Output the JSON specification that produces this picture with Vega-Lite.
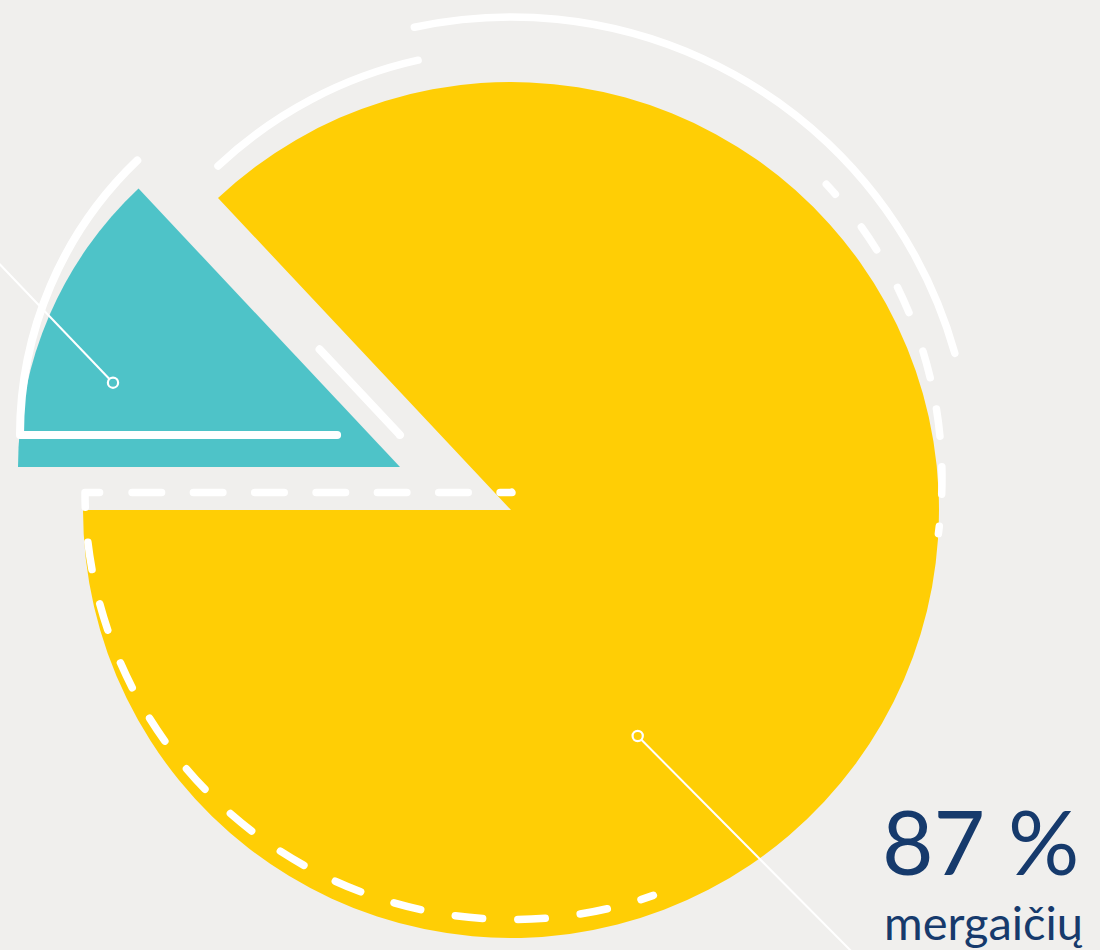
{
  "$schema": "https://vega.github.io/schema/vega-lite/v6.json",
  "width": 1100,
  "height": 950,
  "padding": 0,
  "autosize": {"type": "none"},
  "background": "#f0efed",
  "config": {"view": {"stroke": null}},
  "data": {
    "values": [
      {"group": "berniukų", "share": 13, "label": "13 %"},
      {"group": "mergaičių", "share": 87, "label": "87 %"}
    ]
  },
  "transform": [
    {"stack": "share", "groupby": [], "sort": [{"field": "share", "order": "ascending"}], "as": ["t0", "t1"]}
  ],
  "layer": [
    {
      "transform": [{"filter": {"field": "group", "equal": "mergaičių"}}],
      "mark": {"type": "arc", "outerRadius": 428, "fill": "#ffce05"},
      "encoding": {
        "theta": {"field": "t0", "type": "quantitative", "scale": {"domain": [0, 100], "range": [4.71238898, 10.99557429]}},
        "theta2": {"field": "t1"},
        "x": {"datum": 0, "type": "quantitative", "scale": {"domain": [-511, 589], "nice": false, "zero": false}, "axis": null},
        "y": {"datum": 0, "type": "quantitative", "scale": {"domain": [-440, 510], "nice": false, "zero": false}, "axis": null}
      }
    },
    {
      "transform": [{"filter": {"field": "group", "equal": "berniukų"}}],
      "mark": {"type": "arc", "outerRadius": 382, "fill": "#4ec3c8"},
      "encoding": {
        "theta": {"field": "t0", "type": "quantitative", "scale": {"domain": [0, 100], "range": [4.71238898, 10.99557429]}},
        "theta2": {"field": "t1"},
        "x": {"datum": -111, "type": "quantitative", "scale": {"domain": [-511, 589], "nice": false, "zero": false}, "axis": null},
        "y": {"datum": 43, "type": "quantitative", "scale": {"domain": [-440, 510], "nice": false, "zero": false}, "axis": null}
      }
    },
    {
      "transform": [{"filter": {"field": "group", "equal": "mergaičių"}}],
      "mark": {"type": "arc", "outerRadius": 427, "filled": false, "stroke": "white", "strokeWidth": 7.5, "strokeCap": "round", "strokeJoin": "round",
        "strokeDash": [13.1, 35.15, 27.5, 35.14, 27.5, 35.14, 27.5, 35.14, 27.5, 35.14, 27.5, 35.14, 27.5, 35.14, 27.5, 35.14, 27.5, 35.14, 27.5, 35.14, 27.5, 35.14, 27.5, 35.14, 27.5, 35.14, 29.4, 32.5, 29.5, 31.83, 29.5, 31.83, 29.5, 31.83, 29.5, 31.83, 29.5, 31.83, 29.5, 31.83, 12.27, 2000],
        "strokeDashOffset": 1723.08},
      "encoding": {
        "theta": {"field": "t0", "type": "quantitative", "scale": {"domain": [0, 100], "range": [4.71238898, 10.99557429]}},
        "theta2": {"field": "t1"},
        "x": {"datum": 1, "type": "quantitative", "scale": {"domain": [-511, 589], "nice": false, "zero": false}, "axis": null},
        "y": {"datum": 17.5, "type": "quantitative", "scale": {"domain": [-440, 510], "nice": false, "zero": false}, "axis": null}
      }
    },
    {
      "transform": [{"filter": {"field": "group", "equal": "mergaičių"}}],
      "mark": {"type": "arc", "outerRadius": 428, "filled": false, "stroke": "white", "strokeWidth": 7.5, "strokeCap": "round", "strokeJoin": "round",
        "strokeDash": [229, 5000]},
      "encoding": {
        "theta": {"field": "t0", "type": "quantitative", "scale": {"domain": [0, 100], "range": [4.71238898, 10.99557429]}},
        "theta2": {"field": "t1"},
        "x": {"datum": 0, "type": "quantitative", "scale": {"domain": [-511, 589], "nice": false, "zero": false}, "axis": null},
        "y": {"datum": 32, "type": "quantitative", "scale": {"domain": [-440, 510], "nice": false, "zero": false}, "axis": null}
      }
    },
    {
      "transform": [{"filter": {"field": "group", "equal": "mergaičių"}}],
      "mark": {"type": "arc", "outerRadius": 431, "filled": false, "stroke": "white", "strokeWidth": 7.5, "strokeCap": "round", "strokeJoin": "round",
        "strokeDash": [13.5, 41.9, 27.5, 43.2, 27.5, 41, 27.5, 31.9, 27.5, 30.5, 27.5, 32.1, 7.5, 2900],
        "strokeDashOffset": 2600.55},
      "encoding": {
        "theta": {"field": "t0", "type": "quantitative", "scale": {"domain": [0, 100], "range": [4.71238898, 10.99557429]}},
        "theta2": {"field": "t1"},
        "x": {"datum": 0, "type": "quantitative", "scale": {"domain": [-511, 589], "nice": false, "zero": false}, "axis": null},
        "y": {"datum": 32, "type": "quantitative", "scale": {"domain": [-440, 510], "nice": false, "zero": false}, "axis": null}
      }
    },
    {
      "transform": [{"filter": {"field": "group", "equal": "mergaičių"}}],
      "mark": {"type": "arc", "outerRadius": 461, "filled": false, "stroke": "white", "strokeWidth": 7.5, "strokeCap": "round", "strokeJoin": "round",
        "strokeDash": [695.2, 3000],
        "strokeDashOffset": 3445},
      "encoding": {
        "theta": {"field": "t0", "type": "quantitative", "scale": {"domain": [0, 100], "range": [4.71238898, 10.99557429]}},
        "theta2": {"field": "t1"},
        "x": {"datum": 0, "type": "quantitative", "scale": {"domain": [-511, 589], "nice": false, "zero": false}, "axis": null},
        "y": {"datum": 32, "type": "quantitative", "scale": {"domain": [-440, 510], "nice": false, "zero": false}, "axis": null}
      }
    },
    {
      "transform": [{"filter": {"field": "group", "equal": "berniukų"}}],
      "mark": {"type": "arc", "outerRadius": 380, "filled": false, "stroke": "white", "strokeWidth": 8, "strokeCap": "round", "strokeJoin": "round",
        "strokeDash": [306.65, 266.1, 117.65, 62.75, 317.25, 100]},
      "encoding": {
        "theta": {"field": "t0", "type": "quantitative", "scale": {"domain": [0, 100], "range": [4.71238898, 10.99557429]}},
        "theta2": {"field": "t1"},
        "x": {"datum": -111, "type": "quantitative", "scale": {"domain": [-511, 589], "nice": false, "zero": false}, "axis": null},
        "y": {"datum": 75, "type": "quantitative", "scale": {"domain": [-440, 510], "nice": false, "zero": false}, "axis": null}
      }
    },
    {
      "transform": [{"filter": {"field": "group", "equal": "berniukų"}}],
      "mark": {"type": "rule", "stroke": "white", "strokeWidth": 2},
      "encoding": {
        "x": {"datum": -398, "type": "quantitative", "scale": {"domain": [-511, 589], "nice": false, "zero": false}, "axis": null},
        "y": {"datum": 127.3, "type": "quantitative", "scale": {"domain": [-440, 510], "nice": false, "zero": false}, "axis": null},
        "x2": {"datum": -521},
        "y2": {"datum": 256}
      }
    },
    {
      "transform": [{"filter": {"field": "group", "equal": "mergaičių"}}],
      "mark": {"type": "rule", "stroke": "white", "strokeWidth": 2},
      "encoding": {
        "x": {"datum": 126.7, "type": "quantitative", "scale": {"domain": [-511, 589], "nice": false, "zero": false}, "axis": null},
        "y": {"datum": -226, "type": "quantitative", "scale": {"domain": [-440, 510], "nice": false, "zero": false}, "axis": null},
        "x2": {"datum": 354},
        "y2": {"datum": -455}
      }
    },
    {
      "transform": [{"filter": {"field": "group", "equal": "berniukų"}}],
      "mark": {"type": "point", "shape": "circle", "filled": true, "fill": "#4ec3c8", "stroke": "white", "strokeWidth": 2.2, "size": 105, "opacity": 1},
      "encoding": {
        "x": {"datum": -398, "type": "quantitative", "scale": {"domain": [-511, 589], "nice": false, "zero": false}, "axis": null},
        "y": {"datum": 127.3, "type": "quantitative", "scale": {"domain": [-440, 510], "nice": false, "zero": false}, "axis": null}
      }
    },
    {
      "transform": [{"filter": {"field": "group", "equal": "mergaičių"}}],
      "mark": {"type": "point", "shape": "circle", "filled": true, "fill": "#ffce05", "stroke": "white", "strokeWidth": 2.2, "size": 105, "opacity": 1},
      "encoding": {
        "x": {"datum": 126.7, "type": "quantitative", "scale": {"domain": [-511, 589], "nice": false, "zero": false}, "axis": null},
        "y": {"datum": -226, "type": "quantitative", "scale": {"domain": [-440, 510], "nice": false, "zero": false}, "axis": null}
      }
    },
    {
      "transform": [{"filter": {"field": "group", "equal": "mergaičių"}}],
      "mark": {"type": "text", "font": "Lato", "fontSize": 89, "fill": "#163a6c", "align": "left", "baseline": "alphabetic"},
      "encoding": {
        "text": {"field": "label"},
        "x": {"datum": 371, "type": "quantitative", "scale": {"domain": [-511, 589], "nice": false, "zero": false}, "axis": null},
        "y": {"datum": -365, "type": "quantitative", "scale": {"domain": [-440, 510], "nice": false, "zero": false}, "axis": null}
      }
    },
    {
      "transform": [{"filter": {"field": "group", "equal": "mergaičių"}}],
      "mark": {"type": "text", "font": "Lato", "fontSize": 47, "fill": "#163a6c", "align": "left", "baseline": "alphabetic"},
      "encoding": {
        "text": {"field": "group"},
        "x": {"datum": 373, "type": "quantitative", "scale": {"domain": [-511, 589], "nice": false, "zero": false}, "axis": null},
        "y": {"datum": -430, "type": "quantitative", "scale": {"domain": [-440, 510], "nice": false, "zero": false}, "axis": null}
      }
    }
  ]
}
